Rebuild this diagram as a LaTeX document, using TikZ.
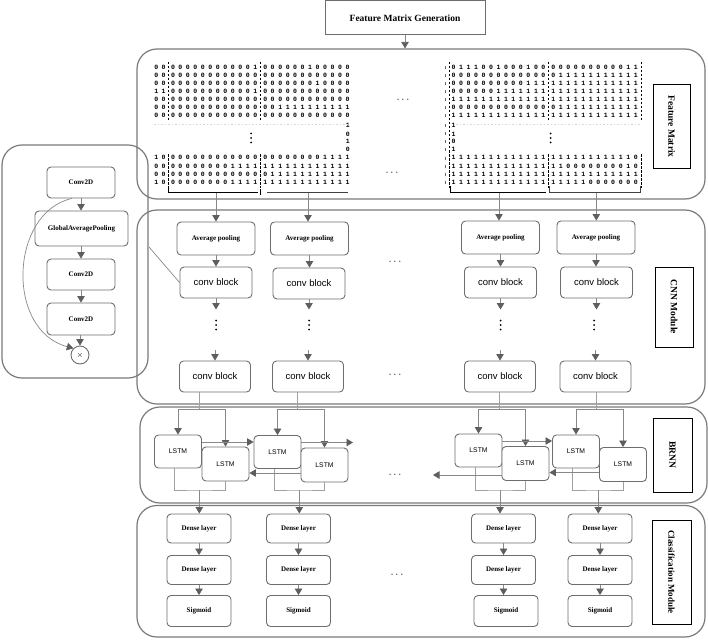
\documentclass[tikz,border=0pt]{standalone}
\usepackage{fontspec}
\setmainfont{Liberation Serif}
\newfontfamily\sansf{Liberation Sans}
\newfontfamily\monof{Liberation Mono}
\usetikzlibrary{arrows.meta}
\definecolor{pgray}{HTML}{7A7A7A}
\definecolor{edge}{HTML}{6E6E6E}
\definecolor{conn}{HTML}{888888}
\definecolor{headc}{HTML}{5E5E5E}
\definecolor{thinc}{HTML}{A0A0A0}
\definecolor{faint}{HTML}{D8D8D8}
\newcommand\digrow[1]{\edef\digtmp{#1}\expandafter\digloop\digtmp\relax}
\def\digloop#1{\ifx\relax#1\else\makebox[7.5pt]{#1}\expandafter\digloop\fi}
\begin{document}
\begin{tikzpicture}[x=1pt,y=-1pt,
 sz/.style 2 args={minimum width=#1pt,minimum height=#2pt},
 panel/.style={draw=pgray,line width=1.2pt,rounded corners=20pt,inner sep=0pt},
 blk/.style={draw=edge,line width=0.9pt,rounded corners=4pt,fill=white,inner sep=0pt,align=center},
 serifb/.style={font=\bfseries\fontsize{7}{8}\selectfont},
 convf/.style={font=\sansf\fontsize{9.5}{11}\selectfont},
 lstmf/.style={font=\sansf\fontsize{6.8}{8}\selectfont},
 lab/.style={draw=black,line width=1pt,fill=white,inner sep=0pt,rotate=-90,font=\bfseries\fontsize{9.5}{11}\selectfont},
 dig/.style={anchor=base west,inner sep=0pt,font=\monof\bfseries\fontsize{6.5}{6.5}\selectfont},
 hdots/.style={inner sep=0pt,font=\fontsize{11}{11}\selectfont},
 arr/.style={draw=conn,line width=0.8pt,-{Triangle[length=6.5pt,width=7.5pt,color=headc]}},
 thinl/.style={draw=thinc,line width=0.7pt},
 dashv/.style={draw=black,line width=0.8pt,dash pattern=on 2.5pt off 1.5pt},
]
\useasboundingbox (0,0) rectangle (708,639);

% ---------- panels ----------
\node[panel,sz={568}{150}] (fm) at (421,124) {};
\node[panel,sz={568}{194}] (cnn) at (421,307) {};
\node[panel,sz={567}{96}] (brnn) at (423.5,455) {};
\node[panel,sz={568}{131.5}] (cls) at (421,571.25) {};
\node[panel,sz={146}{233}] (inset) at (75,261.5) {};

% ---------- title ----------
\node[draw=edge,line width=1pt,fill=white,sz={160}{34},font=\bfseries\fontsize{9.5}{11}\selectfont] (fmg) at (405,18) {Feature Matrix Generation};
\draw[arr] (fmg.south) -- (fmg.south |- fm.north);

% ---------- side labels ----------
\node[lab,sz={83}{37}] (lfm) at (671.5,126.5) {Feature Matrix};
\node[lab,sz={80}{38}] (lcnn) at (674,307) {CNN Module};
\node[lab,sz={74}{39}] (lbrnn) at (672.5,455) {BRNN};
\node[lab,sz={104}{39},font=\bfseries\fontsize{9}{11}\selectfont] (lcls) at (671.5,572) {Classification Module};

% ---------- vertical dots ----------
\foreach \vx/\vy in {251/138, 550.7/138, 216/325, 309/325, 500.5/325, 594/325}{
 \fill[black] (\vx,\vy-4.5) circle[radius=1pt] (\vx,\vy) circle[radius=1pt] (\vx,\vy+4.5) circle[radius=1pt];
}

% ---------- feature matrix, left ----------
\foreach \i/\pa/\pb/\pc [evaluate=\i as \yb using 62+8*\i] in {
 1/00/000000000001/000000100000,
 2/00/000000000000/000000000000,
 3/00/000000000000/000000010000,
 4/11/000000000001/000000000000,
 5/00/000000000000/000000000000,
 6/00/000000000000/001111111111,
 7/00/000000000000/000000000000}{
 \node[dig] (LA\i) at (152.25,\yb) {\digrow{\pa}};
 \node[dig] (LB\i) at (169,\yb) {\digrow{\pb}};
 \node[dig] (LC\i) at (261.25,\yb) {\digrow{\pc}};
}
\foreach \i/\pa [evaluate=\i as \yb using 120+8*\i] in {1/1,2/0,3/1,4/0}{
 \node[dig] (LS\i) at (343.75,\yb) {\digrow{\pa}};
}
\foreach \i/\pa/\pb/\pc [evaluate=\i as \yb using 152+8*\i] in {
 1/10/000000000000/000000001111,
 2/00/000000001111/111111111111,
 3/00/000000000000/011111111111,
 4/10/000000001111/111111111111}{
 \node[dig] (LD\i) at (152.25,\yb) {\digrow{\pa}};
 \node[dig] (LE\i) at (169,\yb) {\digrow{\pb}};
 \node[dig] (LF\i) at (261.25,\yb) {\digrow{\pc}};
}
\draw[dashv] (168.3,62) -- (168.3,120) (168.3,154) -- (168.3,188);
\draw[dashv] (260,62) -- (260,120) (260,154) -- (260,188);
\draw[faint,line width=0.8pt,dash pattern=on 1.5pt off 2pt] (154,124) -- (350,124);
\draw[black,line width=0.9pt] (168.3,186) -- (168.3,192.5) -- (258,192.5);
\draw[black,line width=0.9pt] (260,189) -- (260,195);
\draw[black!75,line width=0.9pt] (267,192.5) -- (348,192.5);

% ---------- feature matrix, right ----------
\foreach \i/\pa/\pb [evaluate=\i as \yb using 62+8*\i] in {
 1/0111001000100/000000000011,
 2/0000000000000/011111111111,
 3/0000000000111/111111111111,
 4/0000001111111/111111111111,
 5/1111111111111/111111111111,
 6/0000000000000/011111111111,
 7/1111111111111/111111111111}{
 \node[dig] (RA\i) at (449.5,\yb) {\digrow{\pa}};
 \node[dig] (RB\i) at (549.25,\yb) {\digrow{\pb}};
}
\foreach \i/\pa [evaluate=\i as \yb using 120+8*\i] in {1/1,2/1,3/0,4/1}{
 \node[dig] (RS\i) at (449.5,\yb) {\digrow{\pa}};
}
\foreach \i/\pa/\pb [evaluate=\i as \yb using 152+8*\i] in {
 1/1111111111111/111111111110,
 2/1111111111111/110000000010,
 3/1111111111111/111111111111,
 4/1111111111111/111110000000}{
 \node[dig] (RD\i) at (449.5,\yb) {\digrow{\pa}};
 \node[dig] (RE\i) at (549.25,\yb) {\digrow{\pb}};
}
\foreach \yy in {68,76,84,92,100,108,116,126,134,142,150,158,166,174,182}{
 \draw[black!60,line width=0.6pt] (445.3,\yy-1.5) -- (445.3,\yy+1.5);
}
\draw[dashv] (449.7,62) -- (449.7,188);
\draw[dashv] (548.7,62) -- (548.7,120) (548.7,154) -- (548.7,188);
\draw[dashv] (641.3,62) -- (641.3,120) (641.3,154) -- (641.3,188);
\draw[faint,line width=0.8pt,dash pattern=on 1.5pt off 2pt] (456,124) -- (640,124);
\draw[black,line width=0.9pt] (450.7,186) -- (450.7,192.5) -- (546.3,192.5);
\draw[black!75,line width=0.9pt] (549.7,186) -- (549.7,192.5) -- (640.7,192.5) -- (640.7,186);

\node[hdots] (e1) at (403,100) {$\cdots$};
\node[hdots] (e2) at (392,173) {$\cdots$};

% ---------- CNN module ----------
\foreach \c/\xa/\ya/\xb/\yb/\xc in {1/216/238.5/216/282.5/215, 2/309.5/238.5/309/283.5/308, 3/500.5/237.5/500.5/282.5/500, 4/596/237.5/596.5/282.5/595.5}{
 \node[blk,sz={78}{33},serifb] (ap\c) at (\xa,\ya) {Average pooling};
 \node[blk,sz={72}{31},convf] (cb\c) at (\xb,\yb) {conv block};
 \node[blk,sz={71}{31},convf] (cz\c) at (\xc,376.5) {conv block};
 \coordinate (ta\c) at (\xb,309.5);
 \coordinate (tb\c) at (\xc,350);
 \draw[arr] (ap\c.south) -- (ap\c.south |- cb\c.north);
 \draw[arr] (cb\c.south) -- (ta\c);
 \draw[arr] (tb\c) -- (cz\c.north);
}
\coordinate (bk1) at (216,192.5);
\coordinate (bk2) at (308,192.5);
\coordinate (bk3) at (499,192.5);
\coordinate (bk4) at (596.3,192.5);
\foreach \c in {1,2,3,4}{\draw[arr] (bk\c) -- (bk\c |- ap\c.north);}
\node[hdots] (e3) at (395,262) {$\cdots$};
\node[hdots] (e4) at (395,375) {$\cdots$};

% ---------- inset ----------
\node[blk,sz={68}{31},serifb] (c2a) at (81,182.5) {Conv2D};
\node[blk,sz={93}{35},serifb] (gap) at (81.5,228.5) {GlobalAveragePooling};
\node[blk,sz={68}{31},serifb] (c2b) at (81,274.5) {Conv2D};
\node[blk,sz={68}{32},serifb] (c2c) at (81,319) {Conv2D};
\node[circle,draw=edge,line width=0.9pt,minimum size=18pt,inner sep=0pt,fill=white,font=\fontsize{8}{8}\selectfont] (mul) at (80,355) {$\times$};
\draw[arr] (c2a.south) -- (c2a.south |- gap.north);
\draw[arr] (c2b.north |- gap.south) -- (c2b.north);
\draw[arr] (c2b.south) -- (c2c.north);
\draw[arr] (c2c.south -| mul.north) -- (mul.north);
\draw[draw=conn,line width=0.7pt,-{Triangle[length=6.5pt,width=7.5pt,color=headc]}] ([xshift=-9pt]c2a.south) .. controls (10,212) and (5,330) .. (mul.north west);
\coordinate (zf) at (149,247);
\draw[draw=conn,line width=0.7pt] (zf) -- (cb1.west);

% ---------- BRNN ----------
\foreach \c/\xa/\ya/\xb/\yb/\sx/\ox in {1/178/451.5/225.5/464/199/199.3, 2/277.5/452/324.5/465/297.7/299.3, 3/478.5/450.5/525.5/463.5/499.3/500, 4/576/451.5/623/464.5/596.7/598.3}{
 \node[blk,sz={47}{33},lstmf] (la\c) at (\xa,\ya) {LSTM};
 \node[blk,sz={47}{34},lstmf] (lb\c) at (\xb,\yb) {LSTM};
 \coordinate (s\c) at (\sx,409);
 \coordinate (o\c) at (\ox,490);
 \draw[thinl] (cz\c.south -| s\c) -- (s\c);
 \draw[arr] (s\c) -| (la\c.north);
 \draw[arr] (s\c) -| (lb\c.north);
 \draw[thinl] ([xshift=-3.5pt]la\c.south) |- (o\c) -| (lb\c.south);
}
\coordinate (f2) at (353,442.5);
\coordinate (g3) at (433,475);
\draw[arr] ([yshift=9.5pt]la1.east) -- ([yshift=9.5pt]la1.east -| la2.west);
\draw[arr] ([yshift=9.5pt]la2.east) -- (f2);
\draw[arr] ([yshift=9.5pt]la3.east) -- ([yshift=9.5pt]la3.east -| la4.west);
\draw[arr] ([yshift=-8pt]lb2.west) -- ([yshift=-8pt]lb2.west -| lb1.east);
\draw[arr] ([yshift=-11.5pt]lb3.west) -- (g3);
\draw[arr] ([yshift=-8pt]lb4.west) -- ([yshift=-8pt]lb4.west -| lb3.east);
\node[hdots] (e5) at (395,475) {$\cdots$};

% ---------- classification ----------
\foreach \c/\x/\xs in {1/199/199, 2/298.5/298.5, 3/503.5/506, 4/600/600}{
 \node[blk,sz={64}{29},serifb] (da\c) at (\x,528.5) {Dense layer};
 \node[blk,sz={64}{29},serifb] (db\c) at (\x,570) {Dense layer};
 \node[blk,sz={64}{31},serifb] (sg\c) at (\xs,611) {Sigmoid};
 \draw[arr] (o\c) -- (o\c |- da\c.north);
 \draw[arr] (da\c.south) -- (db\c.north);
 \draw[arr] (db\c.south) -- (db\c.south |- sg\c.north);
}
\node[hdots] (e6) at (397,575) {$\cdots$};
\end{tikzpicture}
\end{document}
